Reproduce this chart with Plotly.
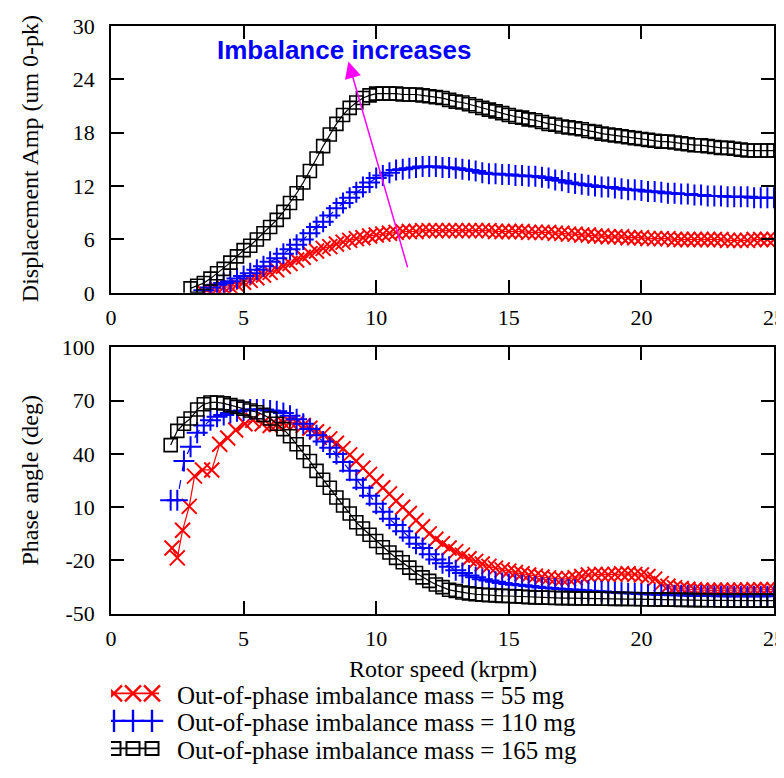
import plotly.graph_objects as go
from plotly.subplots import make_subplots

# ---------------- data ----------------
series_names = ["Out-of-phase imbalance mass = 55 mg",
                "Out-of-phase imbalance mass = 110 mg",
                "Out-of-phase imbalance mass = 165 mg"]

# Amplitude plot: rotor speed (krpm)
speed_top = [3.0, 3.25, 3.5, 3.75, 4.0, 4.25, 4.5, 4.75, 5.0, 5.25, 5.5, 5.75,
             6.0, 6.25, 6.5, 6.75, 7.0, 7.25, 7.5, 7.75, 8.0, 8.25, 8.5, 8.75,
             9.0, 9.25, 9.5, 9.75, 10.0, 10.25, 10.5, 10.75, 11.0, 11.25, 11.5, 11.75,
             12.0, 12.25, 12.5, 12.75, 13.0, 13.25, 13.5, 13.75, 14.0, 14.25, 14.5, 14.75,
             15.0, 15.25, 15.5, 15.75, 16.0, 16.25, 16.5, 16.75, 17.0, 17.25, 17.5, 17.75,
             18.0, 18.25, 18.5, 18.75, 19.0, 19.25, 19.5, 19.75, 20.0, 20.25, 20.5, 20.75,
             21.0, 21.25, 21.5, 21.75, 22.0, 22.25, 22.5, 22.75, 23.0, 23.25, 23.5, 23.75,
             24.0, 24.25, 24.5, 24.75, 25.0]

amp_55 = [None, None, 0.1, 0.2, 0.4, 0.6, 0.7, 0.9, 1.2, 1.4, 1.7, 2.0,
          2.3, 2.6, 3.0, 3.3, 3.7, 4.0, 4.4, 4.7, 5.0, 5.2, 5.5, 5.7,
          5.9, 6.1, 6.2, 6.4, 6.5, 6.6, 6.7, 6.8, 6.9, 6.9, 6.9, 7.0,
          7.0, 7.0, 7.0, 7.0, 7.0, 7.0, 7.0, 7.0, 7.0, 7.0, 6.9, 6.9,
          6.9, 6.9, 6.9, 6.8, 6.8, 6.8, 6.8, 6.7, 6.7, 6.6, 6.6, 6.5,
          6.5, 6.4, 6.4, 6.3, 6.3, 6.3, 6.2, 6.2, 6.2, 6.1, 6.1, 6.1,
          6.1, 6.0, 6.0, 6.0, 6.0, 6.0, 6.0, 6.0, 6.0, 5.9, 5.9, 5.9,
          5.9, 6.0, 6.0, 6.0, 6.0]

amp_110 = [None, None, 0.3, 0.6, 0.9, 1.1, 1.3, 1.6, 1.9, 2.2, 2.6, 3.0,
           3.5, 3.9, 4.4, 4.9, 5.4, 6.0, 6.7, 7.4, 8.0, 8.7, 9.5, 10.1,
           10.7, 11.3, 11.9, 12.4, 12.9, 13.2, 13.5, 13.8, 13.9, 14.0, 14.1, 14.2,
           14.2, 14.2, 14.1, 14.1, 14.0, 13.9, 13.8, 13.7, 13.5, 13.4, 13.4, 13.3,
           13.3, 13.2, 13.2, 13.1, 13.1, 13.0, 12.9, 12.7, 12.6, 12.4, 12.3, 12.2,
           12.1, 12.0, 11.9, 11.9, 11.8, 11.7, 11.6, 11.6, 11.5, 11.4, 11.4, 11.3,
           11.2, 11.2, 11.1, 11.1, 11.0, 11.0, 10.9, 10.9, 10.9, 10.8, 10.8, 10.8,
           10.8, 10.7, 10.7, 10.7, 10.7]

amp_165 = [0.5, 0.8, 1.1, 1.6, 2.2, 2.7, 3.4, 4.1, 4.8, 5.3, 6.0, 6.7,
           7.4, 8.2, 9.1, 10.1, 11.2, 12.4, 13.7, 15.1, 16.5, 17.8, 19.0, 20.0,
           20.8, 21.4, 21.9, 22.2, 22.4, 22.4, 22.4, 22.4, 22.3, 22.3, 22.3, 22.2,
           22.1, 22.0, 21.9, 21.7, 21.5, 21.4, 21.2, 21.0, 20.8, 20.6, 20.4, 20.2,
           20.0, 19.8, 19.7, 19.5, 19.4, 19.2, 19.0, 18.9, 18.7, 18.6, 18.5, 18.4,
           18.2, 18.1, 17.9, 17.8, 17.7, 17.6, 17.5, 17.4, 17.3, 17.2, 17.1, 17.0,
           17.0, 16.9, 16.8, 16.7, 16.6, 16.6, 16.5, 16.4, 16.3, 16.3, 16.2, 16.1,
           16.0, 16.0, 16.0, 16.0, 16.0]

# Phase plot
speed_phase = [2.25, 2.5, 2.75, 3.0, 3.25, 3.5, 3.75, 4.0, 4.25, 4.5, 4.75, 5.0,
               5.25, 5.5, 5.75, 6.0, 6.25, 6.5, 6.75, 7.0, 7.25, 7.5, 7.75, 8.0,
               8.25, 8.5, 8.75, 9.0, 9.25, 9.5, 9.75, 10.0, 10.25, 10.5, 10.75, 11.0,
               11.25, 11.5, 11.75, 12.0, 12.25, 12.5, 12.75, 13.0, 13.25, 13.5, 13.75, 14.0,
               14.25, 14.5, 14.75, 15.0, 15.25, 15.5, 15.75, 16.0, 16.25, 16.5, 16.75, 17.0,
               17.25, 17.5, 17.75, 18.0, 18.25, 18.5, 18.75, 19.0, 19.25, 19.5, 19.75, 20.0,
               20.25, 20.5, 20.75, 21.0, 21.25, 21.5, 21.75, 22.0, 22.25, 22.5, 22.75, 23.0,
               23.25, 23.5, 23.75, 24.0, 24.25, 24.5, 24.75, 25.0]

phase_110 = [14, 14, 36, 44, 52, 56, 59, 61, 62, 63, 64, 64.5,
             65, 65, 65, 64.5, 64, 63, 61.5, 59.5, 57, 54, 50.5, 47,
             43.5, 40, 35.5, 30.5, 25.5, 21, 16.5, 12, 7.5, 3.5, 0, -3.5,
             -7, -10.5, -13, -16.5, -19.5, -21.5, -23.5, -25.5, -27, -28.5, -29.5, -30.5,
             -31.3, -32, -32.7, -33.3, -33.7, -34, -34.4, -34.8, -35.2, -35.5, -35.8, -36,
             -36.3, -36.5, -36.8, -37, -37.3, -37.5, -37.8, -38, -38.2, -38.4, -38.6, -38.8,
             -39, -39.1, -39.3, -39.4, -39.5, -39.6, -39.7, -39.8, -39.9, -40, -40, -40.1,
             -40.1, -40.2, -40.2, -40.2, -40.2, -40.2, -40.1, -40]

phase_165 = [45, 53, 57, 60, 65, 68, 69, 69, 68.5, 67.5, 66.5, 65.5,
             64.5, 63.5, 62, 60, 57, 54, 50, 45.5, 41, 36, 30.5, 25.5,
             21, 15.5, 11, 6.5, 1.5, -2, -5.5, -9, -12.5, -15.5, -18.5, -21,
             -24, -27, -29.5, -31.5, -33.5, -35, -36.5, -37.2, -38, -38.5, -39, -39.3,
             -39.5, -39.7, -39.9, -40, -40.2, -40.4, -40.6, -40.8, -40.9, -41, -41.1, -41.2,
             -41.2, -41.3, -41.3, -41.4, -41.4, -41.5, -41.5, -41.6, -41.6, -41.7, -41.7, -41.8,
             -41.8, -41.9, -41.9, -42, -42.1, -42.2, -42.2, -42.3, -42.3, -42.4, -42.4, -42.5,
             -42.5, -42.6, -42.6, -42.6, -42.6, -42.6, -42.6, -42.6]

speed_phase_55 = [2.3, 2.5, 2.7, 2.95, 3.15, 3.45, 3.8, 4.1, 4.4, 4.7, 5.05, 5.35, 5.7,
                  6.0, 6.25, 6.5, 6.75, 7.0, 7.25, 7.5, 7.75, 8.0, 8.25, 8.5, 8.75,
                  9.0, 9.25, 9.5, 9.75, 10.0, 10.25, 10.5, 10.75, 11.0, 11.25, 11.5, 11.75,
                  12.0, 12.25, 12.5, 12.75, 13.0, 13.25, 13.5, 13.75, 14.0, 14.25, 14.5, 14.75,
                  15.0, 15.25, 15.5, 15.75, 16.0, 16.25, 16.5, 16.75, 17.0, 17.25, 17.5, 17.75,
                  18.0, 18.25, 18.5, 18.75, 19.0, 19.25, 19.5, 19.75, 20.0, 20.25, 20.5, 20.75,
                  21.0, 21.25, 21.5, 21.75, 22.0, 22.25, 22.5, 22.75, 23.0, 23.25, 23.5, 23.75,
                  24.0, 24.25, 24.5, 24.75, 25.0]

phase_55 = [-13, -18.5, -3, 10.5, 27.5, 31, 31, 45.5, 49, 53.5, 57, 59, 57,
            56, 56.5, 57.5, 58, 57.5, 56, 54.5, 52.5, 51, 48.5, 46, 43,
            39.5, 36, 32, 28.5, 24.5, 21, 17.5, 13.5, 10, 6.5, 2.5, -1,
            -5, -8, -10.5, -13, -15, -17, -19, -20.5, -22, -23.3, -24.3, -25.3,
            -26, -26.8, -27.5, -28.2, -28.8, -29.3, -29.8, -30.2, -30.5, -30.2, -29.7, -29,
            -28.2, -27.8, -27.8, -28, -27.8, -27.5, -27.5, -27.8, -28.2, -29, -30.5, -33,
            -34.5, -35.3, -35.8, -36.2, -36.5, -36.7, -36.8, -36.8, -36.8, -36.8, -36.7, -36.7,
            -36.6, -36.5, -36.5, -36.4, -36.4]

x_ticks = [0, 5, 10, 15, 20, 25]
amp_ticks = [0, 6, 12, 18, 24, 30]
phase_ticks = [-50, -20, 10, 40, 70, 100]
phase_tick_text = ["-50", "-20", "10", "40", "70", "100"]

# ---------------- styling ----------------
serif = "Liberation Serif, Times New Roman, serif"
RED, BLUE, BLACK, MAGENTA = "#FF0000", "#0000FF", "#000000", "#FF00FF"

styles = [
    dict(color=RED, symbol="x-thin", size=15, mlw=2.0, dash="solid"),
    dict(color=BLUE, symbol="cross-thin", size=15, mlw=2.0, dash="dash"),
    dict(color=BLACK, symbol="square-open", size=13, mlw=1.6, dash="solid"),
]

W, H = 784, 778
M_L, M_R, M_T, M_B = 103, 18, 18, 0
plot_h = H - M_T - M_B


def py(p):
    """pixel row -> paper y"""
    return (H - M_B - p) / plot_h


def px(p):
    """pixel column -> paper x"""
    return (p - M_L) / (W - M_L - M_R)


fig = make_subplots(rows=2, cols=1, vertical_spacing=0.0)

top_data = [(speed_top, amp_55), (speed_top, amp_110), (speed_top, amp_165)]
bot_data = [(speed_phase_55, phase_55), (speed_phase, phase_110), (speed_phase, phase_165)]

for i, st in enumerate(styles):
    mk = dict(symbol=st["symbol"], size=st["size"], color=st["color"],
              line=dict(color=st["color"], width=st["mlw"]))
    ln = dict(color=st["color"], width=1.2, dash=st["dash"])
    fig.add_trace(go.Scatter(x=top_data[i][0], y=top_data[i][1], mode="lines+markers",
                             name=series_names[i], marker=mk, line=ln,
                             connectgaps=False, showlegend=False), row=1, col=1)
    fig.add_trace(go.Scatter(x=bot_data[i][0], y=bot_data[i][1], mode="lines+markers",
                             name=series_names[i], marker=mk, line=ln,
                             showlegend=False), row=2, col=1)

# ---- hand-drawn legend in a hidden pixel-scaled axis below the plots ----
legend_rows_y = [697, 725, 753]
legend_key_x = [106, 125, 144]
legend_line_x = [99, 151]
legend_text_x = 167
legend_size = [16, 16, 13]
for i, st in enumerate(styles):
    yk = legend_rows_y[i]
    fig.add_trace(go.Scatter(x=legend_line_x, y=[yk, yk], mode="lines",
                             line=dict(color=st["color"], width=1.8),
                             xaxis="x3", yaxis="y3", showlegend=False, hoverinfo="skip"))
    fig.add_trace(go.Scatter(x=legend_key_x, y=[yk] * 3, mode="markers",
                             marker=dict(symbol=st["symbol"], size=legend_size[i],
                                         color=st["color"],
                                         line=dict(color=st["color"], width=st["mlw"] + 0.4)),
                             xaxis="x3", yaxis="y3", showlegend=False, hoverinfo="skip"))
    fig.add_annotation(x=legend_text_x, y=yk + 2, xref="x3", yref="y3",
                       text=series_names[i], showarrow=False, xanchor="left",
                       yanchor="middle",
                       font=dict(family=serif, size=25, color="black"))

axis_common = dict(showline=True, linecolor="black", linewidth=1.5, mirror="ticks",
                   ticks="inside", ticklen=13, tickwidth=1.5, tickcolor="black",
                   showgrid=False, zeroline=False,
                   tickfont=dict(family=serif, size=22, color="black"))

fig.update_layout(
    width=W, height=H,
    margin=dict(l=M_L, r=M_R, t=M_T, b=M_B),
    paper_bgcolor="white", plot_bgcolor="white",
    showlegend=False,
    xaxis=dict(domain=[0, 1], range=[0, 25], tickvals=x_ticks, ticklabelstandoff=4,
               **axis_common),
    yaxis=dict(domain=[py(289.5), 1.0], range=[0, 30], tickvals=amp_ticks,
               ticklabelstandoff=10, **axis_common),
    xaxis2=dict(domain=[0, 1], range=[0, 25], tickvals=x_ticks, ticklabelstandoff=4,
                **axis_common),
    yaxis2=dict(domain=[py(616), py(345)], range=[-50, 100], tickvals=phase_ticks,
                ticktext=phase_tick_text, ticklabelstandoff=10, **axis_common),
    xaxis3=dict(domain=[0, 1], range=[M_L, W - M_R], visible=False, fixedrange=True,
                anchor="y3"),
    yaxis3=dict(domain=[0, py(680)], range=[H, 680], visible=False, fixedrange=True,
                anchor="x3"),
)

title_font = dict(family=serif, size=24, color="black")
fig.add_annotation(x=px(435), y=py(672), xref="paper", yref="paper", text="Rotor speed (krpm)",
                   showarrow=False, xanchor="center", yanchor="middle", font=title_font)
fig.add_annotation(x=px(22), y=py(153.5), xref="paper", yref="paper",
                   text="Displacement Amp (um 0-pk)", textangle=-90,
                   showarrow=False, xanchor="center", yanchor="middle", font=title_font)
fig.add_annotation(x=px(22), y=py(480.5), xref="paper", yref="paper",
                   text="Phase angle (deg)", textangle=-90,
                   showarrow=False, xanchor="center", yanchor="middle", font=title_font)

# Annotation text and arrow
fig.add_annotation(x=8.8, y=27.3, xref="x", yref="y", text="<b>Imbalance increases</b>",
                   showarrow=False,
                   font=dict(family="Liberation Sans, Arial, sans-serif", size=26, color=BLUE))
fig.add_annotation(x=8.95, y=26.0, xref="x", yref="y", ax=11.2, ay=2.7,
                   axref="x", ayref="y", text="", showarrow=True,
                   arrowhead=2, arrowsize=2.2, arrowwidth=1.5, arrowcolor=MAGENTA,
                   standoff=0, startstandoff=0)

fig.write_html("out.html")
